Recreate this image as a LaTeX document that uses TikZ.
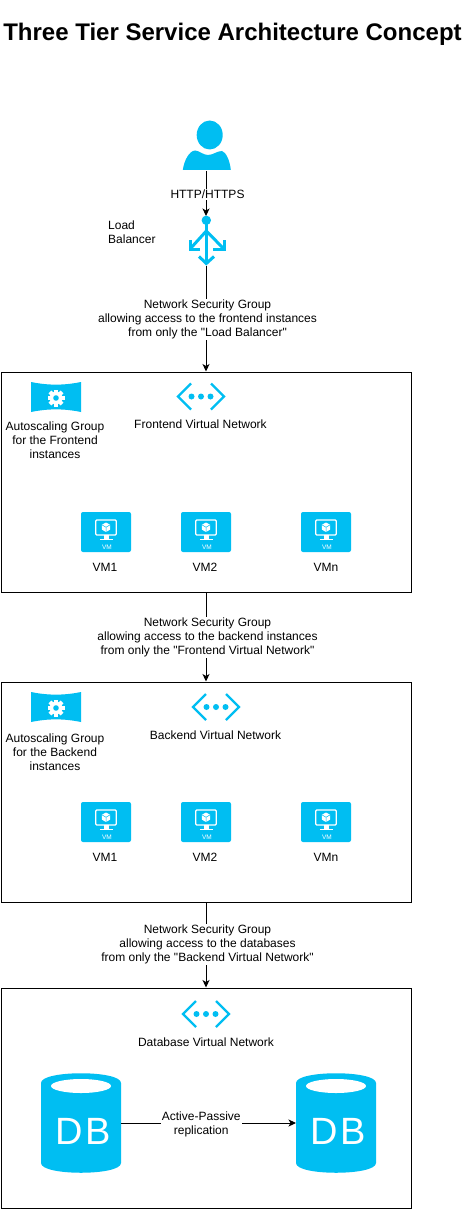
\documentclass[tikz,border=0pt]{standalone}
\usepackage{fontspec}
\setmainfont[Ligatures=TeXOff]{Liberation Sans}
\newfontfamily\dbfont[LetterSpace=6]{Liberation Sans}
\usetikzlibrary{arrows.meta}
\definecolor{az}{HTML}{00BEF2}
\tikzset{
  x=1pt,y=-1pt,
  txt/.style={font=\fontsize{12}{14}\selectfont,align=center,inner sep=0pt,text=black},
  lbl/.style={txt,fill=white,inner sep=1pt,xshift=1.5pt,yshift=-1pt},
  box/.style={draw=black,line width=1pt,minimum width=410pt,minimum height=220pt,inner sep=0pt},
  ghost/.style={inner sep=0pt,outer sep=0pt},
  conn/.style={draw=black,line width=1pt,-{Stealth[length=7.5pt,width=7pt,inset=2pt]}},
}
\newcommand{\scaleicon}[2]{\begin{scope}[shift={(#1,#2)}]
  \fill[az] (-25,-16) .. controls (-8,-12.5) and (8,-12.5) .. (25,-16) -- (25,14) .. controls (8,10.5) and (-8,10.5) .. (-25,14) -- cycle;
  \foreach \a in {0,45,...,315}{\fill[white,rotate=\a] (-2,-8.5) rectangle (2,0);}
  \fill[white] (0,0) circle (6.3);
  \fill[az] (0,0) circle (2.8);
\end{scope}}
\newcommand{\neticon}[2]{\begin{scope}[shift={(#1,#2)}]
  \draw[az,line width=2.4pt] (-10,-13) -- (-23,0) -- (-10,13);
  \draw[az,line width=2.4pt] (10,-13) -- (23,0) -- (10,13);
  \foreach \d in {-9.5,0,9.5}{\fill[az] (\d,0) circle (3);}
\end{scope}}
\newcommand{\vmicon}[2]{\begin{scope}[shift={(#1,#2)}]
  \fill[az,rounded corners=2pt] (-25,-20) rectangle (25,20);
  \draw[white,line width=1.3pt,rounded corners=1pt] (-10.3,-12) rectangle (10.3,3);
  \fill[white] (-2.5,3) rectangle (2.5,7);
  \fill[white] (-6.5,6.5) rectangle (6.5,8);
  \fill[white] (0,-9.5) -- (4.2,-7.2) -- (4.2,-2.5) -- (0,0) -- (-4.2,-2.5) -- (-4.2,-7.2) -- cycle;
  \draw[az,line width=.5pt] (-4.2,-7.2) -- (0,-4.8) -- (4.2,-7.2) (0,-4.8) -- (0,0);
  \node[ghost,text=white,font=\fontsize{6.5}{7}\selectfont] at (1,15) {VM};
\end{scope}}
\newcommand{\dbicon}[2]{\begin{scope}[shift={(#1,#2)}]
  \fill[az] (-40,-40) .. controls (-40,-53) and (40,-53) .. (40,-40) -- (40,40) .. controls (40,53) and (-40,53) .. (-40,40) -- cycle;
  \fill[white] (0,-37) ellipse (30 and 7);
  \node[ghost,text=white,font=\dbfont\fontsize{38}{38}\selectfont] at (2,8.5) {DB};
\end{scope}}
\begin{document}
\begin{tikzpicture}
\useasboundingbox (0,0) rectangle (471,1209);
\fill[white] (0,0) rectangle (471,1209);
\node[ghost,font=\bfseries\fontsize{24}{28}\selectfont] (title) at (232.5,34.5) {Three Tier Service Architecture Concept};

\node[box] (box1) at (206,482) {};
\node[box] (box2) at (206,792) {};
\node[box] (box3) at (206,1098) {};

% user
\node[ghost,minimum width=48pt,minimum height=51pt] (user) at (206,145.5) {};
\fill[az] (209.7,135) ellipse (13 and 14.5);
\fill[az] (182.8,170) .. controls (184,161) and (189,151) .. (195,150.5) .. controls (199,150.5) and (203,155) .. (208,155) .. controls (213,155) and (217,151) .. (222,151) .. controls (226,152) and (230,161) .. (230.8,170) -- cycle;

% load balancer
\node[ghost,minimum width=40pt,minimum height=50pt] (lb) at (206,241) {};
\fill[az] (206.3,220.3) circle (4.7);
\begin{scope}[az,line width=3pt]
\draw (206.3,222) -- (206.3,263);
\draw (206.3,231) -- (190.5,248.5);
\draw (206.3,231) -- (223.5,248.5);
\draw (199,256.5) -- (206.3,263.5) -- (214,256.5);
\draw (190,240) -- (190,249.5) -- (200,249.5);
\draw (224.5,240) -- (224.5,249.5) -- (213,249.5);
\end{scope}
\node[txt,align=left,anchor=west] (lbtext) at (108,232) {Load\\Balancer};

% frontend tier
\scaleicon{56}{398}
\neticon{201}{396.5}
\node[txt] (as1) at (55,440) {Autoscaling Group\\for the Frontend\hspace*{3pt}\\instances};
\node[txt] (net1) at (200.5,424) {Frontend Virtual Network};
\vmicon{106}{532}
\vmicon{206}{532}
\vmicon{326}{532}
\node[txt] (vm1) at (105,567) {VM1};
\node[txt] (vm2) at (205,567) {VM2};
\node[txt] (vmn) at (326,567) {VMn};

% backend tier
\scaleicon{56}{708}
\neticon{216}{707}
\node[txt] (as2) at (55,752) {Autoscaling Group\\for the Backend\hspace*{3pt}\\instances};
\node[txt] (net2) at (215.5,735) {Backend Virtual Network};
\vmicon{106}{822}
\vmicon{206}{822}
\vmicon{326}{822}
\node[txt] (vmb1) at (105,857) {VM1};
\node[txt] (vmb2) at (205,857) {VM2};
\node[txt] (vmbn) at (326,857) {VMn};

% database tier
\neticon{206}{1014}
\node[txt] (net3) at (206,1042) {Database Virtual Network};
\node[ghost,minimum width=80pt,minimum height=100pt] (db1) at (81,1123) {};
\node[ghost,minimum width=80pt,minimum height=100pt] (db2) at (336,1123) {};
\dbicon{81}{1123}
\dbicon{336}{1123}

% connectors
\draw[conn] (user.south) -- node[lbl] {HTTP/HTTPS} (lb.north);
\draw[conn] (lb.south) -- node[lbl] {Network Security Group\\allowing access to the frontend instances\\from only the "Load Balancer"} (box1.north);
\draw[conn] (box1.south) -- node[lbl,pos=.49] {Network Security Group\\allowing access to the backend instances\\from only the "Frontend Virtual Network"} (box2.north);
\draw[conn] (box2.south) -- node[lbl,pos=.48] {Network Security Group\\allowing access to the databases\\from only the "Backend Virtual Network"} (box3.north);
\draw[conn] (db1.east) -- node[lbl,pos=.45] {Active-Passive\\replication} (db2.west);
\end{tikzpicture}
\end{document}
